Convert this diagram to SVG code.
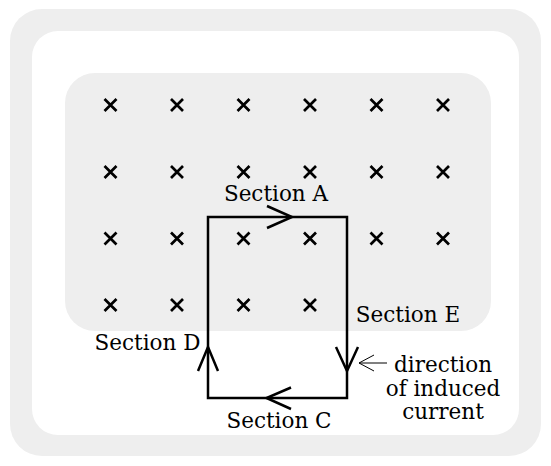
<svg xmlns="http://www.w3.org/2000/svg" width="551" height="466" viewBox="0 0 551 466">
<style>
.t{font-family:"DejaVu Serif","Liberation Serif",serif;font-size:21.5px;fill:#000}
.x{stroke:#000;stroke-width:2.7;fill:none}
.w{stroke:#000;stroke-width:2.5;fill:none;stroke-linejoin:miter;stroke-linecap:square}
.a{stroke:#000;stroke-width:2.5;fill:none;stroke-linecap:butt}
</style>
<defs>
<path id="cr" d="M-6,-6L6,6M-6,6L6,-6" class="x"/>
</defs>
<g id="background">
<rect x="10" y="9" width="531" height="447" rx="32" fill="#eeeeee"/>
<rect x="32" y="31" width="487" height="404" rx="26" fill="#ffffff"/>
</g>
<g id="field">
<rect x="65" y="73" width="426" height="258" rx="30" fill="#eeeeee"/>
<g id="crosses">
<use href="#cr" x="110.5" y="105"/><use href="#cr" x="177" y="105"/><use href="#cr" x="243.5" y="105"/><use href="#cr" x="310" y="105"/><use href="#cr" x="376.5" y="105"/><use href="#cr" x="443" y="105"/>
<use href="#cr" x="110.5" y="172"/><use href="#cr" x="177" y="172"/><use href="#cr" x="243.5" y="172"/><use href="#cr" x="310" y="172"/><use href="#cr" x="376.5" y="172"/><use href="#cr" x="443" y="172"/>
<use href="#cr" x="110.5" y="238.5"/><use href="#cr" x="177" y="238.5"/><use href="#cr" x="243.5" y="238.5"/><use href="#cr" x="310" y="238.5"/><use href="#cr" x="376.5" y="238.5"/><use href="#cr" x="443" y="238.5"/>
<use href="#cr" x="110.5" y="305"/><use href="#cr" x="177" y="305"/><use href="#cr" x="243.5" y="305"/><use href="#cr" x="310" y="305"/>
</g>
</g>
<g id="loop">
<rect x="208" y="217" width="139" height="181" class="w"/>
</g>
<g id="connectors">
<path class="a" d="M267,206L292,217L267,228"/>
<path class="a" d="M358,347L347,371L336,347"/>
<path class="a" d="M291,387.5L266.5,398L291,409"/>
<path class="a" d="M198,371L208,347L218,371"/>
<path d="M387,363H359M374,355L359,363L374,371" stroke="#000" stroke-width="1" fill="none"/>
</g>
<g id="labelA"><text class="t" x="276" y="201" text-anchor="middle">Section A</text></g>
<g id="labelD"><text class="t" x="147.5" y="350" text-anchor="middle">Section D</text></g>
<g id="labelE"><text class="t" x="408" y="322" text-anchor="middle">Section E</text></g>
<g id="labelC"><text class="t" x="279" y="428" text-anchor="middle">Section C</text></g>
<g id="labelDir">
<text class="t" x="443" y="372" text-anchor="middle">direction</text>
<text class="t" x="443" y="396" text-anchor="middle">of induced</text>
<text class="t" x="443" y="419" text-anchor="middle">current</text>
</g>
</svg>
